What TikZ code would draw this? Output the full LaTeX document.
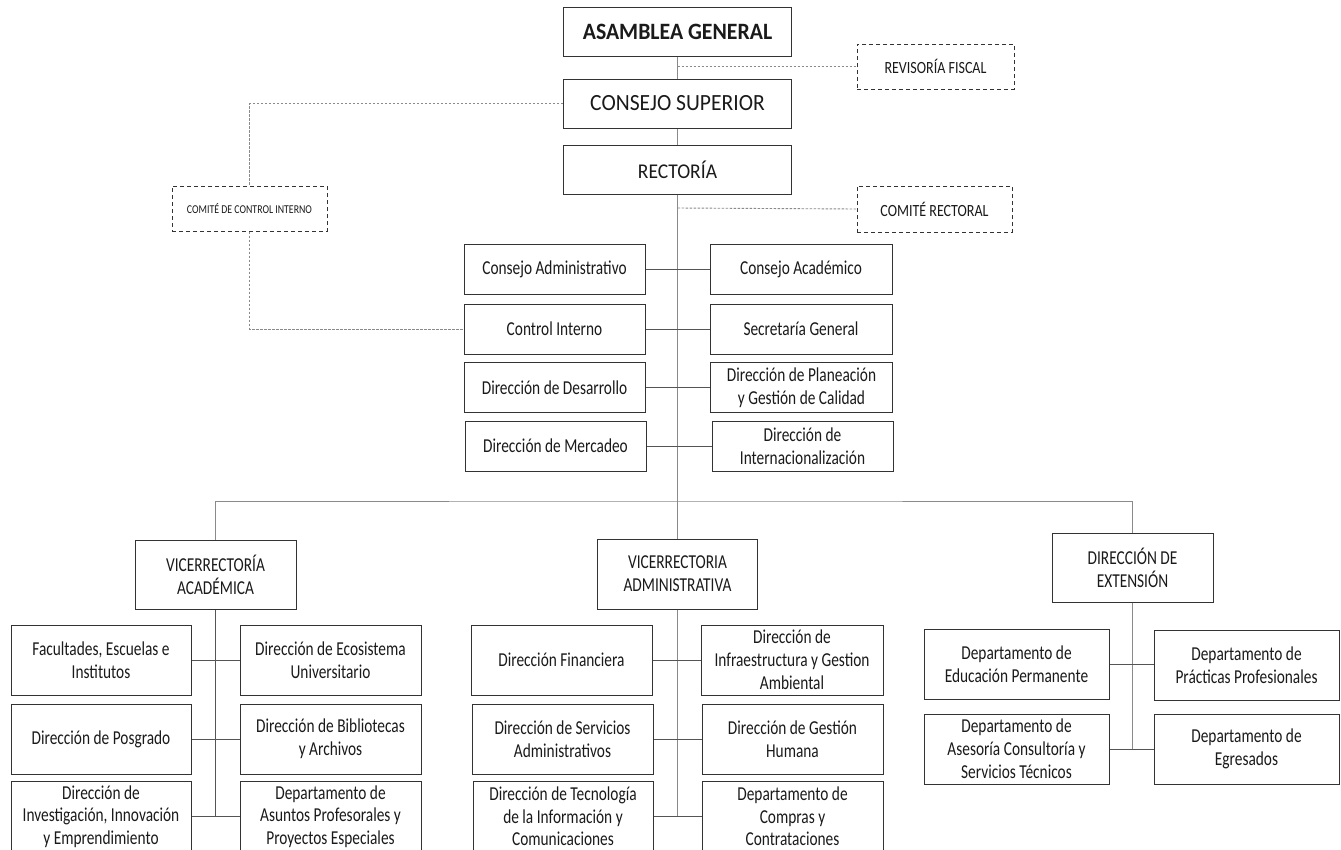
\documentclass[tikz,border=0pt]{standalone}
\usepackage{fontspec}
\setmainfont{Carlito}
\newfontfamily\fA{Carlito}[FakeStretch=0.78]
\newfontfamily\fD{Carlito}[FakeStretch=0.82]
\newfontfamily\fT{Carlito}[FakeStretch=0.93]
\definecolor{bordc}{HTML}{333333}
\definecolor{spinec}{HTML}{8A8A8A}
\definecolor{connc}{HTML}{555555}
\definecolor{txtc}{HTML}{1A1A1A}
\tikzset{
  box/.style={draw=bordc, line width=1pt, rectangle, align=center, inner sep=2pt,
    text=txtc, font=\fA\fontsize{19.7}{23}\selectfont},
  dbox/.style={draw=bordc, line width=1pt, dash pattern=on 4pt off 3pt, rectangle, align=center, inner sep=2pt,
    text=txtc, font=\fD\fontsize{17.1}{20}\selectfont},
  big/.style={font=\fT\fontsize{23.2}{26}\selectfont},
  lowbox/.style={box, font=\fA\fontsize{19.7}{22.5}\selectfont},
  spine/.style={draw=spinec, line width=1pt},
  conn/.style={draw=connc, line width=1pt},
  dline/.style={draw=spinec, line width=0.9pt, dash pattern=on 2.5pt off 1.5pt},
}
\begin{document}
\begin{tikzpicture}[x=1pt,y=-1pt]
\useasboundingbox[fill=white] (0,0) rectangle (1341,849);
% top
\node[box, big, minimum width=228, minimum height=49, font=\fT\fontsize{23.4}{26}\selectfont\bfseries] (AG) at (677.5,31.5) {ASAMBLEA GENERAL};
\node[box, big, minimum width=228, minimum height=49] (CS) at (677.5,103.5) {CONSEJO SUPERIOR};
\node[box, big, minimum width=228, minimum height=49, font=\fT\fontsize{21}{24}\selectfont] (RE) at (677.5,169.5) {RECTORÍA};
\node[dbox, minimum width=157, minimum height=45] (RF) at (935.5,66.5) {REVISORÍA FISCAL};
\node[dbox, minimum width=155, minimum height=46] (CR) at (934.5,209) {COMITÉ RECTORAL};
\node[dbox, minimum width=155, minimum height=45, font=\fD\fontsize{12}{14}\selectfont] (CCI) at (249.5,208.5) {COMITÉ DE CONTROL INTERNO};
% rectoría staff
\node[box, minimum width=181, minimum height=50] (M1L) at (554.5,269) {Consejo Administrativo};
\node[box, minimum width=182, minimum height=50] (M1R) at (801,269) {Consejo Académico};
\node[box, minimum width=181, minimum height=50] (M2L) at (554.5,329) {Control Interno};
\node[box, minimum width=182, minimum height=50] (M2R) at (801,329) {Secretaría General};
\node[box, minimum width=181, minimum height=50] (M3L) at (554.5,387.5) {Dirección de Desarrollo};
\node[box, minimum width=182, minimum height=50] (M3R) at (801.5,387.5) {Dirección de Planeación\\y Gestión de Calidad};
\node[box, minimum width=181, minimum height=50] (M4L) at (555.5,446) {Dirección de Mercadeo};
\node[box, minimum width=181, minimum height=50] (M4R) at (802.5,446) {Dirección de\\Internacionalización};
% vicerrectorías
\node[box, minimum width=161, minimum height=69] (VA) at (215.5,574.5) {VICERRECTORÍA\\ACADÉMICA};
\node[box, minimum width=160, minimum height=70] (VD) at (677.5,574) {VICERRECTORIA\\ADMINISTRATIVA};
\node[box, minimum width=161, minimum height=69] (DE) at (1132.5,567.5) {DIRECCIÓN DE\\EXTENSIÓN};
% académica
\node[box, minimum width=180, minimum height=70] (A1L) at (101,660) {Facultades, Escuelas e\\Institutos};
\node[box, minimum width=181, minimum height=70] (A1R) at (330.5,660) {Dirección de Ecosistema\\Universitario};
\node[box, minimum width=180, minimum height=70] (A2L) at (101,739) {Dirección de Posgrado};
\node[box, minimum width=181, minimum height=70] (A2R) at (330.5,739) {Dirección de Bibliotecas\\y Archivos};
\node[lowbox, minimum width=180, minimum height=70] (A3L) at (101,816.5) {Dirección de\\Investigación, Innovación\\y Emprendimiento};
\node[lowbox, minimum width=181, minimum height=70] (A3R) at (330.5,816.5) {Departamento de\\Asuntos Profesorales y\\Proyectos Especiales};
% administrativa
\node[box, minimum width=181, minimum height=70] (D1L) at (561.5,660) {Dirección Financiera};
\node[box, minimum width=182, minimum height=70] (D1R) at (792,660) {Dirección de\\Infraestructura y Gestion\\Ambiental};
\node[box, minimum width=181, minimum height=70] (D2L) at (562.5,739) {Dirección de Servicios\\Administrativos};
\node[box, minimum width=181, minimum height=70] (D2R) at (792.5,739) {Dirección de Gestión\\Humana};
\node[lowbox, minimum width=180, minimum height=70] (D3L) at (563,816.5) {Dirección de Tecnología\\de la Información y\\Comunicaciones};
\node[lowbox, minimum width=181, minimum height=70] (D3R) at (792.5,816.5) {Departamento de\\Compras y\\Contrataciones};
% extensión
\node[box, minimum width=185, minimum height=70] (E1L) at (1016.5,664) {Departamento de\\Educación Permanente};
\node[box, minimum width=185, minimum height=70] (E1R) at (1246.5,665) {Departamento de\\Prácticas Profesionales};
\node[box, minimum width=185, minimum height=70] (E2L) at (1016.5,749) {Departamento de\\Asesoría Consultoría y\\Servicios Técnicos};
\node[box, minimum width=185, minimum height=70] (E2R) at (1246.5,749) {Departamento de\\Egresados};
% coordinates
\coordinate (j1) at (677.5,66.5);
\coordinate (j2) at (677.5,208);
\coordinate (bus) at (677.5,501);
\coordinate (s3) at (677.5,816.5);
% spine
\draw[spine] (AG.south) -- (CS.north);
\draw[spine] (CS.south) -- (RE.north);
\draw[spine] (RE.south) -- (VD.north);
\draw[spine] (VA.north) |- (bus) -| (DE.north);
% dashed relations
\draw[dline] (j1) -- (RF.west);
\draw[dline] (j2) -- (CR.west);
\draw[dline] (CS.west) -| (CCI.north);
\draw[dline] (CCI.south) |- (M2L.west);
% rectoría connectors
\draw[conn] (M1L.east) -- (M1R.west);
\draw[conn] (M2L.east) -- (M2R.west);
\draw[conn] (M3L.east) -- (M3R.west);
\draw[conn] (M4L.east) -- (M4R.west);
% académica
\draw[conn] (VA.south) -- (VA.south |- A3L.east);
\draw[conn] (A1L.east) -- (A1R.west);
\draw[conn] (A2L.east) -- (A2R.west);
\draw[conn] (A3L.east) -- (A3R.west);
% administrativa
\draw[spine] (VD.south) -- (s3);
\draw[conn] (D1L.east) -- (D1R.west);
\draw[conn] (D2L.east) -- (D2R.west);
\draw[conn] (D3L.east) -- (D3R.west);
% extensión
\draw[spine] (DE.south) -- (DE.south |- E2L.east);
\draw[conn] (E1L.east) -- (E1L.east -| E1R.west);
\draw[conn] (E2L.east) -- (E2R.west);
\end{tikzpicture}
\end{document}
